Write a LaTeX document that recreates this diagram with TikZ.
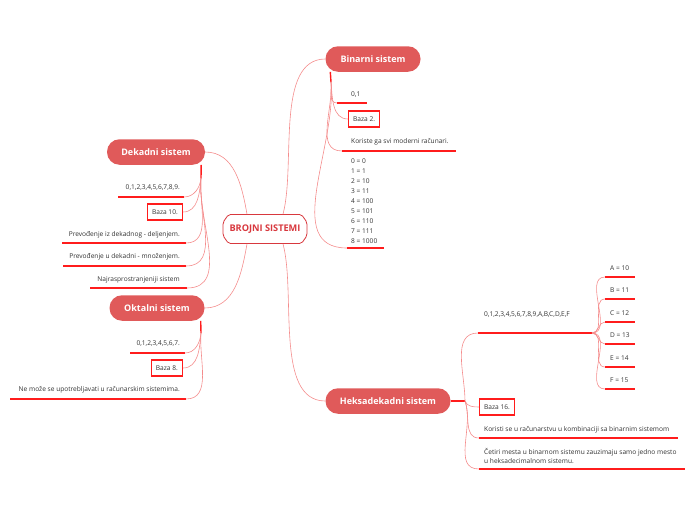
\documentclass[tikz,border=0pt]{standalone}
\usepackage{fontspec}
\setmainfont{Open Sans}
\usetikzlibrary{shapes.misc}

\definecolor{topicred}{HTML}{E05A5A}
\definecolor{linkred}{HTML}{F48C8C}
\definecolor{linered}{HTML}{FF1C1C}
\definecolor{rootred}{HTML}{D8383E}
\definecolor{textgray}{HTML}{333333}

\tikzset{
  root/.style={chamfered rectangle, chamfered rectangle angle=35, chamfered rectangle xsep=3pt, draw=rootred, line width=0.8pt, fill=white,
    rounded corners=2pt, text=rootred, font=\bfseries\fontsize{9.2}{10}\selectfont, inner xsep=0pt,
    minimum width=84pt, minimum height=29pt},
  topic/.style={rounded corners=12.5pt, fill=topicred, text=white, font=\bfseries\fontsize{9}{10}\selectfont, minimum height=25.5pt},
  item/.style={text=textgray, font=\fontsize{6.6}{8}\selectfont, inner sep=0pt},
  bazabox/.style={item, draw=linered, line width=1.4pt, inner xsep=4.5pt, minimum height=16pt},
  branch/.style={draw=linkred, line width=0.6pt},
  uline/.style={draw=linered, line width=1.4pt},
}

\begin{document}
\begin{tikzpicture}[x=1pt, y=-1pt]
\useasboundingbox (0,0) rectangle (696,520);
% Nodes
\node[root] (root) at (265,229) {BROJNI SISTEMI};
\node[topic, minimum width=95pt] (bin) at (373,59) {Binarni sistem};
\node[topic, minimum width=98pt] (dek) at (156,152) {Dekadni sistem};
\node[topic, minimum width=95pt] (okt) at (157,308) {Oktalni sistem};
\node[topic, minimum width=125pt] (hex) at (388,401) {Heksadekadni sistem};

% Binarni sistem
\coordinate (binS) at (331,82);
\node[item, anchor=west] (b1) at (351,95) {0,1};
\coordinate (b1a) at (337,103); \coordinate (b1b) at (367,103);
\node[bazabox, anchor=west] (b2) at (348,119) {Baza 2.};
\node[item, anchor=west] (b3) at (351,142) {Koriste ga svi moderni računari.};
\coordinate (b3a) at (342,151); \coordinate (b3b) at (456,151);
\node[item, anchor=north west, align=left, font=\fontsize{6.6}{9.9}\selectfont] (b4) at (351,159)
  {0 = 0\\1 = 1\\2 = 10\\3 = 11\\4 = 100\\5 = 101\\6 = 110\\7 = 111\\8 = 1000};
\coordinate (b4a) at (347,248); \coordinate (b4b) at (384,248);

% Dekadni sistem
\coordinate (dekS) at (201,178);
\node[item, anchor=east] (d1) at (180,188) {0,1,2,3,4,5,6,7,8,9.};
\coordinate (d1a) at (118,197); \coordinate (d1b) at (184,197);
\node[bazabox, anchor=east] (d2) at (183,212) {Baza 10.};
\node[item, anchor=east] (d3) at (180,235) {Prevođenje iz dekadnog - deljenjem.};
\coordinate (d3a) at (62,243); \coordinate (d3b) at (186,243);
\node[item, anchor=east] (d4) at (180,257) {Prevođenje u dekadni - množenjem.};
\coordinate (d4a) at (63,266); \coordinate (d4b) at (186,266);
\node[item, anchor=east] (d5) at (180,280) {Najrasprostranjeniji sistem};
\coordinate (d5a) at (90,288); \coordinate (d5b) at (187,288);

% Oktalni sistem
\coordinate (oktS) at (201,333);
\node[item, anchor=east] (o1) at (180,344) {0,1,2,3,4,5,6,7.};
\coordinate (o1a) at (130,353); \coordinate (o1b) at (185,353);
\node[bazabox, anchor=east] (o2) at (183,368) {Baza 8.};
\node[item, anchor=east] (o3) at (180,390) {Ne može se upotrebljavati u računarskim sistemima.};
\coordinate (o3a) at (10,399); \coordinate (o3b) at (186,399);

% Heksadekadni sistem
\coordinate (hexS) at (465,401);
\node[item, anchor=west] (h1) at (484,315) {0,1,2,3,4,5,6,7,8,9,A,B,C,D,E,F};
\coordinate (h1a) at (478,333); \coordinate (h1b) at (592,333);
\node[bazabox, anchor=west] (h2) at (479,407) {Baza 16.};
\node[item, anchor=west] (h3) at (484,430) {Koristi se u računarstvu u kombinaciji sa binarnim sistemom};
\coordinate (h3a) at (479,438); \coordinate (h3b) at (678,438);
\node[item, anchor=north west, align=left, font=\fontsize{6.6}{9.5}\selectfont] (h4) at (484,448)
  {Četiri mesta u binarnom sistemu zauzimaju samo jedno mesto\\u heksadecimalnom sistemu.};
\coordinate (h4a) at (479,469); \coordinate (h4b) at (685,469);
\foreach \n/\t/\y in {ha/A = 10/268, hb/B = 11/290, hc/C = 12/313, hd/D = 13/335, he/E = 14/358, hf/F = 15/380} {
  \node[item, anchor=west] (\n) at (610,\y) {\t};
  \coordinate (\n a) at (605,\y+9);
  \coordinate (\n b) at (635,\y+9);
}

% Edges
\draw[branch] ([xshift=18pt]root.north) to[out=75,in=180,looseness=0.8] (bin.west);
\draw[branch] ([xshift=-18pt]root.north) to[out=100,in=0] (dek.east);
\draw[branch] ([xshift=-18pt]root.south) to[out=-100,in=0] (okt.east);
\draw[branch] ([xshift=18pt]root.south) to[out=-75,in=180,looseness=0.8] (hex.west);

\draw[uline] ([xshift=5pt]bin.south west) -- (binS);
\draw[uline] ([xshift=-4pt]dek.south east) -- (dekS);
\draw[uline] ([xshift=-4pt]okt.south east) -- (oktS);
\draw[uline] (hex.east) -- (hexS);

\foreach \u in {b1,b3,b4,d1,d3,d4,d5,o1,o3,h1,h3,h4,ha,hb,hc,hd,he,hf}
  \draw[uline] (\u a) -- (\u b);

\foreach \u in {b1a,b2.west,b3a,b4a}
  \draw[branch] (binS) to[out=-85,in=180] (\u);
\foreach \u in {d1b,d2.east,d3b,d4b,d5b}
  \draw[branch] (dekS) to[out=-95,in=0] (\u);
\foreach \u in {o1b,o2.east,o3b}
  \draw[branch] (oktS) to[out=-95,in=0] (\u);
\draw[branch] (hexS) to[out=90,in=180] (h1a);
\foreach \u in {h2.west,h3a,h4a}
  \draw[branch] (hexS) to[out=-70,in=180] (\u);
\foreach \u in {haa,hba,hca,hda,hea,hfa}
  \draw[branch] (h1b) to[out=0,in=180] (\u);
\end{tikzpicture}
\end{document}
